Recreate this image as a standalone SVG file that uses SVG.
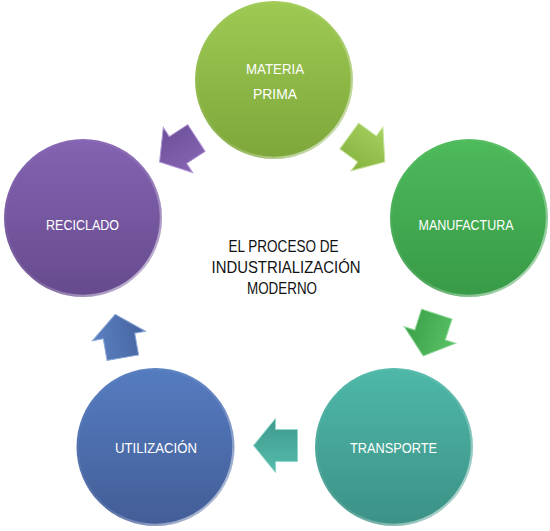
<svg xmlns="http://www.w3.org/2000/svg" width="550" height="531" viewBox="0 0 550 531">
<style>
.lbl{font-family:"Liberation Sans",Arial,sans-serif;font-size:15px;fill:#ffffff;text-anchor:middle}
.ttl{font-family:"Liberation Sans",Arial,sans-serif;font-size:17px;fill:#111111;text-anchor:middle}
.rim{fill:none;stroke:url(#rim);stroke-width:2.5}
.arr{stroke-width:1;stroke-linejoin:miter}
</style>
<defs>
<linearGradient id="gMat" x1="0" y1="0" x2="0" y2="1"><stop offset="0" stop-color="#9ECA53"/><stop offset="1" stop-color="#7DA73A"/></linearGradient>
<linearGradient id="gMan" x1="0" y1="0" x2="0" y2="1"><stop offset="0" stop-color="#4DBA5B"/><stop offset="1" stop-color="#389A47"/></linearGradient>
<linearGradient id="gTra" x1="0" y1="0" x2="0" y2="1"><stop offset="0" stop-color="#4EB8A8"/><stop offset="1" stop-color="#3C9186"/></linearGradient>
<linearGradient id="gUti" x1="0" y1="0" x2="0" y2="1"><stop offset="0" stop-color="#557CC0"/><stop offset="1" stop-color="#435D97"/></linearGradient>
<linearGradient id="gRec" x1="0" y1="0" x2="0" y2="1"><stop offset="0" stop-color="#8463B2"/><stop offset="1" stop-color="#664A8D"/></linearGradient>
<linearGradient id="rim" x1="0" y1="0" x2="1" y2="1"><stop offset="0" stop-color="#ffffff" stop-opacity="0"/><stop offset="0.55" stop-color="#ffffff" stop-opacity="0.1"/><stop offset="1" stop-color="#ffffff" stop-opacity="0.75"/></linearGradient>
<linearGradient id="aMat" x1="0" y1="0" x2="0" y2="1"><stop offset="0" stop-color="#A6D15E"/><stop offset="1" stop-color="#85B13E"/></linearGradient>
<linearGradient id="aMan" x1="0" y1="0" x2="0" y2="1"><stop offset="0" stop-color="#5AC266"/><stop offset="1" stop-color="#3BA048"/></linearGradient>
<linearGradient id="aTra" x1="0" y1="0" x2="0" y2="1"><stop offset="0" stop-color="#55BCAC"/><stop offset="1" stop-color="#3E998C"/></linearGradient>
<linearGradient id="aUti" x1="0" y1="0" x2="0" y2="1"><stop offset="0" stop-color="#5B80C2"/><stop offset="1" stop-color="#45649F"/></linearGradient>
<linearGradient id="aRec" x1="0" y1="0" x2="0" y2="1"><stop offset="0" stop-color="#8766B5"/><stop offset="1" stop-color="#6C4E98"/></linearGradient>
<polygon id="arrow" points="-22,-16 0,-16 0,-27 22,0 0,27 0,16 -22,16"/>
</defs>
<rect width="550" height="531" fill="#ffffff"/>

<g id="connectors">
<use href="#arrow" class="arr" fill="url(#aMat)" stroke="#C5E29A" transform="translate(367,149) rotate(36)"/>
<use href="#arrow" class="arr" fill="url(#aMan)" stroke="#8FD89A" transform="translate(430,335) rotate(108)"/>
<use href="#arrow" class="arr" fill="url(#aTra)" stroke="#8FD6CB" transform="translate(275.5,445.5) rotate(180)"/>
<use href="#arrow" class="arr" fill="url(#aUti)" stroke="#8FAAD8" transform="translate(119,336) rotate(260)"/>
<use href="#arrow" class="arr" fill="url(#aRec)" stroke="#B39AD6" transform="translate(178,150) rotate(147)"/>
</g>

<g id="materia-prima">
<circle cx="274" cy="80" r="79" fill="url(#gMat)"/>
<circle cx="274" cy="80" r="78" class="rim"/>
<text class="lbl" x="275" y="73.5" textLength="58" lengthAdjust="spacingAndGlyphs">MATERIA</text>
<text class="lbl" x="275" y="98.5" textLength="44" lengthAdjust="spacingAndGlyphs">PRIMA</text>
</g>

<g id="manufactura">
<circle cx="469" cy="218" r="79" fill="url(#gMan)"/>
<circle cx="469" cy="218" r="78" class="rim"/>
<text class="lbl" x="466" y="230" textLength="95" lengthAdjust="spacingAndGlyphs">MANUFACTURA</text>
</g>

<g id="transporte">
<circle cx="394" cy="447" r="79" fill="url(#gTra)"/>
<circle cx="394" cy="447" r="78" class="rim"/>
<text class="lbl" x="393.5" y="452.5" textLength="87" lengthAdjust="spacingAndGlyphs">TRANSPORTE</text>
</g>

<g id="utilizacion">
<circle cx="155.5" cy="447" r="79" fill="url(#gUti)"/>
<circle cx="155.5" cy="447" r="78" class="rim"/>
<text class="lbl" x="156" y="452.5" textLength="82" lengthAdjust="spacingAndGlyphs">UTILIZACIÓN</text>
</g>

<g id="reciclado">
<circle cx="83" cy="218" r="79" fill="url(#gRec)"/>
<circle cx="83" cy="218" r="78" class="rim"/>
<text class="lbl" x="82.5" y="230" textLength="73" lengthAdjust="spacingAndGlyphs">RECICLADO</text>
</g>

<g id="title">
<text class="ttl" x="283.5" y="251.5" textLength="110" lengthAdjust="spacingAndGlyphs">EL PROCESO DE</text>
<text class="ttl" x="286" y="272.5" textLength="149" lengthAdjust="spacingAndGlyphs">INDUSTRIALIZACIÓN</text>
<text class="ttl" x="282" y="294" textLength="70" lengthAdjust="spacingAndGlyphs">MODERNO</text>
</g>
</svg>
